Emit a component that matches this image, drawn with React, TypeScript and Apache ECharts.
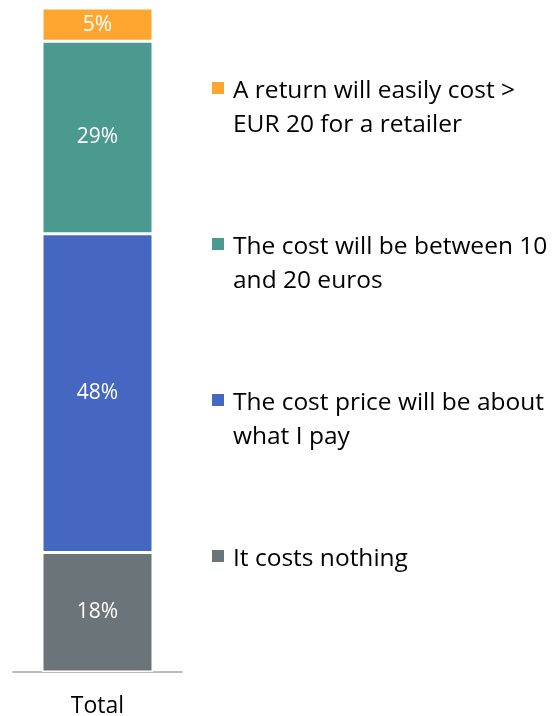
import React, { useEffect, useRef } from "react";
import * as echarts from "echarts";

const categories = ["Total"];
const seriesNames = [
  "It costs nothing",
  "The cost price will be about what I pay",
  "The cost will be between 10 and 20 euros",
  "A return will easily cost > EUR 20 for a retailer",
];
const legendLines = [
  ["It costs nothing"],
  ["The cost price will be about", "what I pay"],
  ["The cost will be between 10", "and 20 euros"],
  ["A return will easily cost >", "EUR 20 for a retailer"],
];
const values = [[18], [48], [29], [5]];
const colors = ["#6B7579", "#4567C1", "#4B9A8F", "#FFA630"];

const FONT = "'Open Sans', Lato, sans-serif";

export default function App() {
  const ref = useRef<HTMLDivElement>(null);
  useEffect(() => {
    if (!ref.current) return;
    const chart = echarts.init(ref.current, undefined, { renderer: "svg" });
    const n = seriesNames.length;
    const graphic: any[] = [];
    for (let k = 0; k < n; k++) {
      const i = n - 1 - k; // top to bottom: reversed stack order
      const cy = 88 + k * 156;
      graphic.push({
        type: "rect",
        left: 212,
        top: cy - 6,
        shape: { width: 12, height: 12 },
        style: { fill: colors[i] },
      });
      graphic.push({
        type: "text",
        x: 233,
        y: cy - 17,
        style: {
          text: legendLines[i].join("\n"),
          font: `24.5px ${FONT}`,
          fill: "#000",
          lineHeight: 34,
          verticalAlign: "top",
        },
      });
    }
    chart.setOption({
      animation: false,
      grid: { left: 13, right: 372, top: 8, bottom: 44 },
      xAxis: {
        type: "category",
        data: categories,
        axisLine: { lineStyle: { color: "#A6A6A6", width: 1.5 } },
        axisTick: { show: false },
        axisLabel: {
          color: "#000",
          fontSize: 23,
          fontFamily: FONT,
          margin: 22,
          lineHeight: 20,
        },
      },
      yAxis: { type: "value", min: 0, max: 100, show: false },
      series: seriesNames.map((name, i) => ({
        name,
        type: "bar",
        stack: "total",
        barWidth: 111,
        data: values[i],
        itemStyle: { color: colors[i], borderColor: "#fff", borderWidth: 1.5 },
        label: {
          show: true,
          position: "inside",
          color: "#fff",
          fontSize: 21,
          fontFamily: FONT,
          formatter: "{c}%",
          offset: [0, -2],
        },
      })),
      graphic,
    });
    return () => chart.dispose();
  }, []);
  return (
    <div
      ref={ref}
      style={{ position: "fixed", left: 0, top: 0, width: 554, height: 716 }}
    />
  );
}
